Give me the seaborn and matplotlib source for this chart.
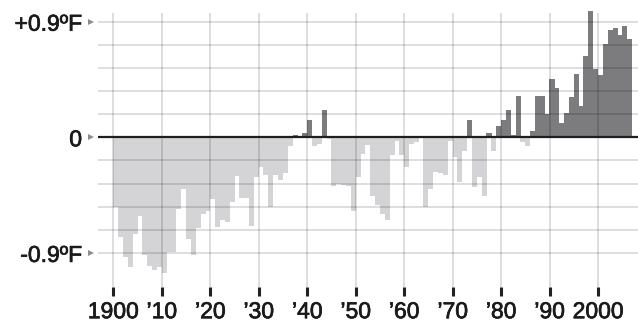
import numpy as np
import pandas as pd
import matplotlib
matplotlib.use("Agg")
import matplotlib.pyplot as plt
import matplotlib.patheffects as pe
from matplotlib.transforms import blended_transform_factory
import seaborn as sns

# ---- data ----
years = list(range(1900, 2007))
anomaly_f = [
    -0.54, -0.78, -0.93, -1.01, -0.75, -0.61, -0.92, -1.00, -1.03, -1.01,   # 1900s
    -1.06, -0.89, -0.89, -0.56, -0.40, -0.79, -0.92, -0.71, -0.60, -0.57,   # 1910s
    -0.48, -0.70, -0.64, -0.66, -0.50, -0.30, -0.47, -0.47, -0.69, -0.31,   # 1920s
    -0.23, -0.29, -0.54, -0.29, -0.33, -0.28, -0.07, 0.02, 0.005, 0.034,    # 1930s
    0.135, -0.065, -0.055, 0.21, -0.015, -0.38, -0.36, -0.37, -0.38, -0.57, # 1940s
    -0.31, -0.13, -0.06, -0.46, -0.53, -0.60, -0.64, -0.14, -0.03, -0.14,   # 1950s
    -0.23, -0.05, -0.04, -0.005, -0.54, -0.40, -0.27, -0.28, -0.29, -0.03,  # 1960s
    -0.15, -0.35, -0.11, 0.135, -0.39, -0.31, -0.46, 0.034, -0.11, 0.09,    # 1970s
    0.135, 0.21, 0.02, 0.32, -0.04, -0.07, 0.05, 0.32, 0.32, 0.18,          # 1980s
    0.45, 0.38, 0.11, 0.19, 0.31, 0.49, 0.24, 0.63, 0.98, 0.53,             # 1990s
    0.485, 0.73, 0.835, 0.85, 0.80, 0.87, 0.765,                            # 2000s
]
decades = [1900, 1910, 1920, 1930, 1940, 1950, 1960, 1970, 1980, 1990, 2000]
decade_labels = ["1900", "\u201910", "\u201920", "\u201930", "\u201940", "\u201950",
                 "\u201960", "\u201970", "\u201980", "\u201990", "2000"]
ytick_values = [-0.9, 0.0, 0.9]
ytick_labels = ["-0.9\u00baF", "0", "+0.9\u00baF"]

# ---- style ----
sns.set_theme(style="white")
plt.rcParams["font.family"] = ["Liberation Sans Narrow", "Liberation Sans", "DejaVu Sans"]

W, H = 638, 324
fig = plt.figure(figsize=(W / 100, H / 100), dpi=100)
ax_left, ax_right, ax_top, ax_bottom = 98, 638, 10, 287
ax = fig.add_axes([ax_left / W, (H - ax_bottom) / H,
                   (ax_right - ax_left) / W, (ax_bottom - ax_top) / H])

df = pd.DataFrame({"year": years, "anomaly": anomaly_f})
df["sign"] = np.where(df["anomaly"] >= 0, "warm", "cool")

sns.barplot(data=df, x="year", y="anomaly", hue="sign",
            palette={"warm": "#7c7c7e", "cool": "#d4d4d6"},
            native_scale=True, width=1.04, dodge=False, legend=False,
            saturation=1, linewidth=0, edgecolor="none", ax=ax, zorder=1)

# axis scaling (pixel geometry of the reference)
px_per_year = (632 - 113.3) / 107
x_left = 1899.5 - (113.3 - ax_left) / px_per_year
x_right = 1899.5 + (ax_right - 113.3) / px_per_year
zero_px, px_per_f = 137.3, 115.6 / 0.9
ax.set_xlim(x_left, x_right)
ax.set_ylim(-(ax_bottom - zero_px) / px_per_f, (zero_px - ax_top) / px_per_f)

# grid drawn over bars
grid_levels = np.linspace(-0.9, 0.9, 11)
for v in grid_levels:
    ax.axhline(v, color="black", alpha=0.17, lw=1.1, zorder=3)
vtop = (zero_px - 13) / px_per_f
ax.vlines([d - 0.5 for d in decades], ymin=ax.get_ylim()[0], ymax=vtop,
          color="black", alpha=0.17, lw=1.1, zorder=3)
ax.axhline(0, color="#1e1e1e", lw=1.6, zorder=4)

# ticks
ax.set_xticks([d - 0.5 for d in decades], decade_labels)
ax.set_yticks(ytick_values, ytick_labels)
ax.tick_params(axis="x", bottom=True, length=6.5, width=2.2, color="#222222",
               pad=3, labelsize=16.5, labelcolor="#1a1a1a")
ax.tick_params(axis="y", left=False, length=0, pad=11.5, labelsize=16.5,
               labelcolor="#1a1a1a")
for lbl in ax.get_xticklabels() + ax.get_yticklabels():
    lbl.set_path_effects([pe.withStroke(linewidth=0.5, foreground="#1a1a1a")])
trans = blended_transform_factory(ax.transAxes, ax.transData)
ax.plot([(91 - ax_left) / (ax_right - ax_left)] * 3, ytick_values, ">",
        color="#8c8c8c", markersize=5, transform=trans, clip_on=False,
        markeredgewidth=0)
ax.set_xlabel("")
ax.set_ylabel("")
for s in ax.spines.values():
    s.set_visible(False)

fig.savefig("out.png", dpi=100, facecolor="white")
